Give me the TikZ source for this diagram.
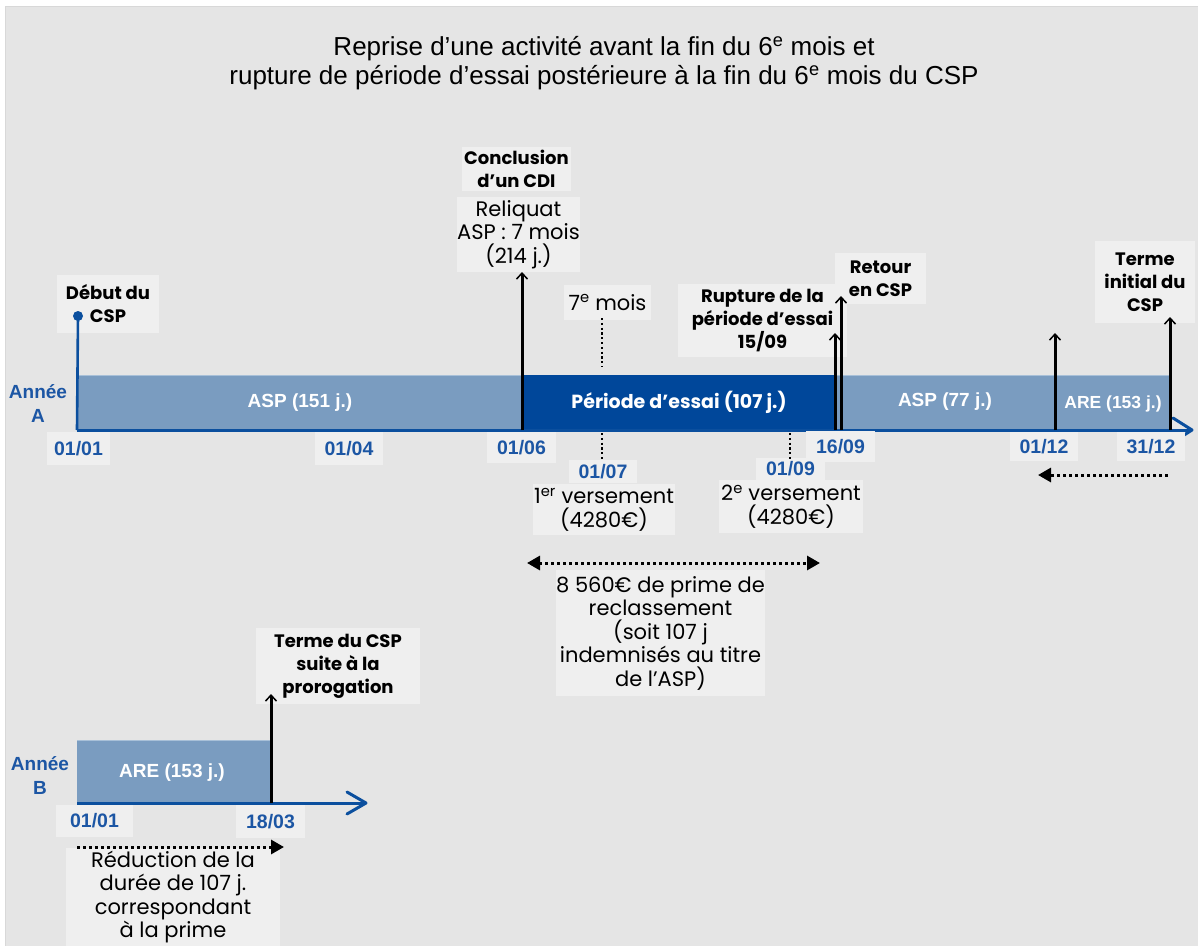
\documentclass[tikz,border=0pt]{standalone}
\usepackage{fontspec}
\setmainfont{Poppins}
\newfontfamily\arialf{Liberation Sans}
\usetikzlibrary{arrows.meta}
\definecolor{bgc}{HTML}{E5E5E5}
\definecolor{bordc}{HTML}{D8D8D8}
\definecolor{boxc}{HTML}{EFEFEF}
\definecolor{lightb}{HTML}{7A9CC0}
\definecolor{lightedge}{HTML}{A8C0D8}
\definecolor{darkb}{HTML}{00479A}
\definecolor{datec}{HTML}{1C56A4}
\definecolor{axisc}{HTML}{0B4F9E}
\begin{document}
\begin{tikzpicture}[x=1pt,y=-1pt,
  lbl/.style={fill=boxc, inner sep=0pt, align=center, font=\fontsize{18}{23}\selectfont\bfseries},
  txt/.style={fill=boxc, inner sep=0pt, align=center, font=\fontsize{21}{23.5}\selectfont},
  datebox/.style={fill=boxc, inner sep=0pt, font=\arialf\bfseries\fontsize{19.5}{22}\selectfont, text=datec},
  yearlbl/.style={inner sep=0pt, align=center, font=\arialf\bfseries\fontsize{19}{24}\selectfont, text=datec},
  barlbl/.style={inner sep=0pt, text=white, font=\arialf\bfseries\fontsize{19}{22}\selectfont},
  evt/.style={line width=3pt, -{Straight Barb[length=6pt,width=11pt,line width=1.5pt]}},
  vdots/.style={line width=2.2pt, dash pattern=on 2.2pt off 2.6pt},
  hdots/.style={line width=3pt, dash pattern=on 3pt off 3pt},
  axisline/.style={axisc, line width=3pt},
  chev/.style={axisc, line width=3pt, line cap=round, line join=round}
]
\useasboundingbox (0,0) rectangle (1198,945);
\fill[white] (0,0) rectangle (1198,945);
\fill[bgc, draw=bordc, line width=1.5pt] (5.5,6.5) rectangle (1200,950);

% title
\node[inner sep=0pt, align=center, font=\arialf\fontsize{26}{29.5}\selectfont] (title) at (604,63)
  {Reprise d’une activité avant la fin du 6\textsuperscript{e} mois et\\
   rupture de période d’essai postérieure à la fin du 6\textsuperscript{e} mois du CSP};

% ---------- Year A ----------
\fill[lightb] (77,375) rectangle (522,430);
\fill[darkb] (522,375) rectangle (837,430);
\fill[lightb] (837,375) rectangle (1170,430);
\draw[lightedge, line width=1pt] (77,375.5) -- (522,375.5);
\draw[lightedge, line width=1pt] (837,375.5) -- (1170,375.5);

\node[barlbl] (asp1) at (300,403) {ASP (151 j.)};
\node[barlbl, font=\bfseries\fontsize{19}{22}\selectfont] (essai) at (679,402) {Période d’essai (107 j.)};
\node[barlbl] (asp2) at (945,402) {ASP (77 j.)};
\node[barlbl, font=\arialf\bfseries\fontsize{17.5}{22}\selectfont] (are1) at (1113,404) {ARE (153 j.)};

\coordinate (axA0) at (77,430);
\coordinate (axA1) at (1192,430);
\draw[axisline] (axA0) -- (axA1);
\draw[chev] (1173,418) -- (axA1) -- (1173,442);

\node[yearlbl] (anneeA) at (38,404) {Année\\A};

% boxes year A
\node[lbl, minimum width=102pt, minimum height=58pt] (debut) at (108,304) {Début du\\CSP};
\node[lbl, minimum width=109pt, minimum height=44pt] (cdi) at (516.5,169) {Conclusion\\d’un CDI};
\node[txt, minimum width=123pt, minimum height=75pt] (reliq) at (518.5,234.5) {Reliquat\\ASP : 7 mois\\(214 j.)};
\node[txt, minimum width=87pt, minimum height=35pt] (mois7) at (607.5,302.5) {7\textsuperscript{e} mois};
\node[lbl, minimum width=169pt, minimum height=73pt] (rupt) at (762.5,320.5) {Rupture de la\\période d’essai\\15/09};
\node[lbl, minimum width=91pt, minimum height=51pt] (retour) at (880.5,278.5) {Retour\\en CSP};
\node[lbl, minimum width=100pt, minimum height=82pt] (termeA) at (1145,282) {Terme\\initial du\\CSP};

\node[datebox, minimum width=63pt, minimum height=33pt] (d0101) at (78.5,448.5) {01/01};
\node[datebox, minimum width=68pt, minimum height=33pt] (d0104) at (349,448.5) {01/04};
\node[datebox, minimum width=69pt, minimum height=31pt] (d0106) at (521.5,447.5) {01/06};
\node[datebox, minimum width=68pt, minimum height=23pt] (d0107) at (603,471.5) {01/07};
\node[txt, minimum width=142pt, minimum height=51pt] (vers1) at (604,509.5) {1\textsuperscript{er} versement\\(4280€)};
\node[datebox, minimum width=69pt, minimum height=31pt] (d1609) at (840.5,446.5) {16/09};
\node[datebox, minimum width=69pt, minimum height=22pt] (d0109) at (790.5,469) {01/09};
\node[txt, minimum width=144pt, minimum height=53pt] (vers2) at (791,506.5) {2\textsuperscript{e} versement\\(4280€)};
\node[datebox, minimum width=68pt, minimum height=29pt] (d0112) at (1044,446.5) {01/12};
\node[datebox, minimum width=68pt, minimum height=29pt] (d3112) at (1151,446.5) {31/12};
\node[txt, minimum width=203pt, minimum height=126pt] (prime) at (660.5,633)
  {8 560€ de prime de\\reclassement\\(soit 107 j\\indemnisés au titre\\de l’ASP)};

% start marker
\coordinate (startdot) at (78,316);
\draw[axisc, line width=2.6pt] (axA0) -- (startdot);
\fill[axisc] (startdot) circle (5pt);

% event arrows year A
\coordinate (e1b) at (522,430); \coordinate (e1t) at (522,272);
\coordinate (e2b) at (835,430); \coordinate (e2t) at (835,333);
\coordinate (e3b) at (841,430); \coordinate (e3t) at (841,296);
\coordinate (e4b) at (1055,430); \coordinate (e4t) at (1055,333);
\coordinate (e5b) at (1170,430); \coordinate (e5t) at (1170,317);
\draw[evt] (e1b) -- (e1t);
\draw[evt] (e2b) -- (e2t);
\draw[evt] (e3b) -- (e3t);
\draw[evt] (e4b) -- (e4t);
\draw[evt] (e5b) -- (e5t);

% dotted markers
\coordinate (m7a) at (602,318); \coordinate (m7b) at (602,367);
\draw[vdots] (m7a) -- (m7b);
\coordinate (p1a) at (602,433); \coordinate (p1b) at (602,460);
\draw[vdots] (p1a) -- (p1b);
\coordinate (p2a) at (790,433); \coordinate (p2b) at (790,459);
\draw[vdots] (p2a) -- (p2b);

% dotted arrows
\coordinate (la) at (1168,475); \coordinate (lb) at (1038,475);
\draw[hdots, -{Triangle[length=13pt,width=14pt]}] (la) -- (lb);
\coordinate (pa) at (527,563); \coordinate (pb) at (820,563);
\draw[hdots, {Triangle[length=13pt,width=14pt]}-{Triangle[length=13pt,width=14pt]}] (pa) -- (pb);

% ---------- Year B ----------
\fill[lightb] (77,740) rectangle (270,803);
\draw[lightedge, line width=1pt] (77,740.5) -- (270,740.5);
\node[barlbl] (are2) at (172,773) {ARE (153 j.)};
\coordinate (axB0) at (77,803);
\coordinate (axB1) at (366,803);
\draw[axisline] (axB0) -- (axB1);
\draw[chev] (347,792) -- (axB1) -- (347,814);
\node[yearlbl] (anneeB) at (40,775.5) {Année\\B};

\node[lbl, minimum width=164pt, minimum height=76pt] (termeB) at (338,666) {Terme du CSP\\suite à la\\prorogation};
\node[datebox, minimum width=77pt, minimum height=32pt] (b0101) at (94.5,821) {01/01};
\node[datebox, minimum width=69pt, minimum height=33pt] (b1803) at (270.5,821.5) {18/03};
\node[txt, minimum width=214pt, minimum height=98pt] (reduc) at (173,897)
  {Réduction de la\\durée de 107 j.\\correspondant\\à la prime};

\coordinate (eBb) at (271,803); \coordinate (eBt) at (271,694);
\draw[evt] (eBb) -- (eBt);
\coordinate (ra) at (77,847); \coordinate (rb) at (284,847);
\draw[hdots, -{Triangle[length=13pt,width=14pt]}] (ra) -- (rb);
\end{tikzpicture}
\end{document}
